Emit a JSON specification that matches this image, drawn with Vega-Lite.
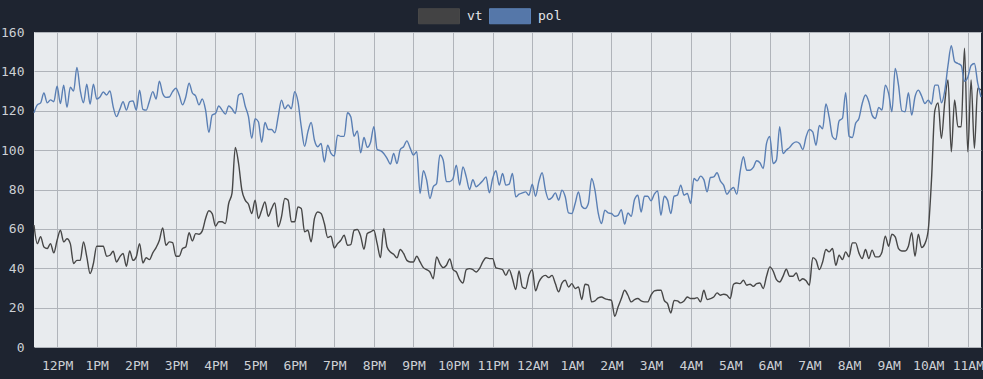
{
  "$schema": "https://vega.github.io/schema/vega-lite/v6.json",
  "autosize": "none",
  "padding": {"left": 34, "top": 32, "right": 2, "bottom": 32},
  "width": 947,
  "height": 315,
  "background": "#1e2430",
  "config": {
    "view": {"fill": "#e8ebee", "stroke": null},
    "axis": {"labelFont": "DejaVu Sans Mono", "labelFontSize": 13, "labelColor": "#cdd0d5", "gridColor": "#b0b4ba", "gridWidth": 1, "domain": false, "ticks": false}
  },
  "data": {"format": {"parse": {"t": "date:'%Y-%m-%dT%H:%M'"}}, "values": [
{"t":"2024-01-01T11:25","vt":61.9,"pol":119},{"t":"2024-01-01T11:30","vt":52.5,"pol":123},{"t":"2024-01-01T11:35","vt":56,"pol":124},{"t":"2024-01-01T11:40","vt":50.8,"pol":129},{"t":"2024-01-01T11:45","vt":50,"pol":124},{"t":"2024-01-01T11:50","vt":52.5,"pol":125.5},{"t":"2024-01-01T11:55","vt":47.8,"pol":124.6},
{"t":"2024-01-01T12:00","vt":54.2,"pol":132.5},{"t":"2024-01-01T12:05","vt":59.3,"pol":123.7},{"t":"2024-01-01T12:10","vt":53.4,"pol":133},{"t":"2024-01-01T12:15","vt":55,"pol":121.7},{"t":"2024-01-01T12:20","vt":52.5,"pol":132},{"t":"2024-01-01T12:25","vt":42.4,"pol":130},{"t":"2024-01-01T12:30","vt":44,"pol":142},{"t":"2024-01-01T12:35","vt":44,"pol":130.5},{"t":"2024-01-01T12:40","vt":53.4,"pol":124},{"t":"2024-01-01T12:45","vt":45.8,"pol":133.5},{"t":"2024-01-01T12:50","vt":37.3,"pol":123.4},{"t":"2024-01-01T12:55","vt":42.4,"pol":133.5},
{"t":"2024-01-01T13:00","vt":51.2,"pol":126},{"t":"2024-01-01T13:05","vt":51.2,"pol":127},{"t":"2024-01-01T13:10","vt":51.2,"pol":129.5},{"t":"2024-01-01T13:15","vt":46.1,"pol":128},{"t":"2024-01-01T13:20","vt":46.6,"pol":130},{"t":"2024-01-01T13:25","vt":48.6,"pol":122},{"t":"2024-01-01T13:30","vt":43.2,"pol":117},{"t":"2024-01-01T13:35","vt":45.8,"pol":120.7},{"t":"2024-01-01T13:40","vt":47.5,"pol":124.6},{"t":"2024-01-01T13:45","vt":41,"pol":120.3},{"t":"2024-01-01T13:50","vt":48.8,"pol":124.6},{"t":"2024-01-01T13:55","vt":44,"pol":125},
{"t":"2024-01-01T14:00","vt":45.8,"pol":120.3},{"t":"2024-01-01T14:05","vt":52.5,"pol":130.5},{"t":"2024-01-01T14:10","vt":42.7,"pol":120.7},{"t":"2024-01-01T14:15","vt":45.3,"pol":120.3},{"t":"2024-01-01T14:20","vt":44.4,"pol":125},{"t":"2024-01-01T14:25","vt":47.8,"pol":129.7},{"t":"2024-01-01T14:30","vt":50.5,"pol":126},{"t":"2024-01-01T14:35","vt":54.2,"pol":135},{"t":"2024-01-01T14:40","vt":60.5,"pol":128.8},{"t":"2024-01-01T14:45","vt":51.7,"pol":126.8},{"t":"2024-01-01T14:50","vt":53.4,"pol":127},{"t":"2024-01-01T14:55","vt":53,"pol":129.7},
{"t":"2024-01-01T15:00","vt":46.1,"pol":131.4},{"t":"2024-01-01T15:05","vt":46.1,"pol":128},{"t":"2024-01-01T15:10","vt":50,"pol":123},{"t":"2024-01-01T15:15","vt":50.8,"pol":127},{"t":"2024-01-01T15:20","vt":58,"pol":134},{"t":"2024-01-01T15:25","vt":53.9,"pol":129},{"t":"2024-01-01T15:30","vt":57.6,"pol":127.5},{"t":"2024-01-01T15:35","vt":57.3,"pol":123},{"t":"2024-01-01T15:40","vt":59,"pol":126},{"t":"2024-01-01T15:45","vt":65.3,"pol":120.3},{"t":"2024-01-01T15:50","vt":69.2,"pol":109},{"t":"2024-01-01T15:55","vt":67.8,"pol":117.8},
{"t":"2024-01-01T16:00","vt":61.4,"pol":118.6},{"t":"2024-01-01T16:05","vt":63.6,"pol":122.4},{"t":"2024-01-01T16:10","vt":63.6,"pol":120.3},{"t":"2024-01-01T16:15","vt":62.7,"pol":118.3},{"t":"2024-01-01T16:20","vt":72.9,"pol":122.4},{"t":"2024-01-01T16:25","vt":78,"pol":121},{"t":"2024-01-01T16:30","vt":101.4,"pol":118.6},{"t":"2024-01-01T16:35","vt":93.2,"pol":128},{"t":"2024-01-01T16:40","vt":79.7,"pol":128.8},{"t":"2024-01-01T16:45","vt":74.6,"pol":122.4},{"t":"2024-01-01T16:50","vt":72.5,"pol":117},{"t":"2024-01-01T16:55","vt":67.8,"pol":106},
{"t":"2024-01-01T17:00","vt":74.6,"pol":116},{"t":"2024-01-01T17:05","vt":65.3,"pol":114.4},{"t":"2024-01-01T17:10","vt":69.5,"pol":104},{"t":"2024-01-01T17:15","vt":73.7,"pol":114},{"t":"2024-01-01T17:20","vt":66.4,"pol":110.5},{"t":"2024-01-01T17:25","vt":70.3,"pol":110.5},{"t":"2024-01-01T17:30","vt":73.2,"pol":108.8},{"t":"2024-01-01T17:35","vt":61,"pol":117},{"t":"2024-01-01T17:40","vt":66.1,"pol":125.4},{"t":"2024-01-01T17:45","vt":75.4,"pol":121},{"t":"2024-01-01T17:50","vt":74.6,"pol":123},{"t":"2024-01-01T17:55","vt":63.6,"pol":121},
{"t":"2024-01-01T18:00","vt":63.6,"pol":129.7},{"t":"2024-01-01T18:05","vt":71.2,"pol":124.6},{"t":"2024-01-01T18:10","vt":70.3,"pol":111.9},{"t":"2024-01-01T18:15","vt":58.5,"pol":102},{"t":"2024-01-01T18:20","vt":59.3,"pol":109.3},{"t":"2024-01-01T18:25","vt":53.4,"pol":114},{"t":"2024-01-01T18:30","vt":65.3,"pol":105},{"t":"2024-01-01T18:35","vt":68.6,"pol":101.7},{"t":"2024-01-01T18:40","vt":67.8,"pol":103.4},{"t":"2024-01-01T18:45","vt":62.7,"pol":94},{"t":"2024-01-01T18:50","vt":55.6,"pol":102.5},{"t":"2024-01-01T18:55","vt":56.3,"pol":98.3},
{"t":"2024-01-01T19:00","vt":50.3,"pol":97},{"t":"2024-01-01T19:05","vt":52.5,"pol":107.6},{"t":"2024-01-01T19:10","vt":54.2,"pol":107},{"t":"2024-01-01T19:15","vt":56.8,"pol":107},{"t":"2024-01-01T19:20","vt":51.7,"pol":119},{"t":"2024-01-01T19:25","vt":52,"pol":117},{"t":"2024-01-01T19:30","vt":59.3,"pol":107},{"t":"2024-01-01T19:35","vt":59.7,"pol":109.8},{"t":"2024-01-01T19:40","vt":56.3,"pol":98.6},{"t":"2024-01-01T19:45","vt":49.7,"pol":106.4},{"t":"2024-01-01T19:50","vt":57.6,"pol":101.4},{"t":"2024-01-01T19:55","vt":58.5,"pol":104},
{"t":"2024-01-01T20:00","vt":59.3,"pol":111.9},{"t":"2024-01-01T20:05","vt":52.5,"pol":100.3},{"t":"2024-01-01T20:10","vt":45.4,"pol":99.7},{"t":"2024-01-01T20:15","vt":60.2,"pol":98.3},{"t":"2024-01-01T20:20","vt":50.8,"pol":95.8},{"t":"2024-01-01T20:25","vt":48.3,"pol":92.9},{"t":"2024-01-01T20:30","vt":47.1,"pol":98.3},{"t":"2024-01-01T20:35","vt":45.3,"pol":93.2},{"t":"2024-01-01T20:40","vt":49.5,"pol":100.3},{"t":"2024-01-01T20:45","vt":47.5,"pol":101.7},{"t":"2024-01-01T20:50","vt":44,"pol":104.7},{"t":"2024-01-01T20:55","vt":43.2,"pol":101},
{"t":"2024-01-01T21:00","vt":43.2,"pol":97.5},{"t":"2024-01-01T21:05","vt":46.1,"pol":99.2},{"t":"2024-01-01T21:10","vt":43.2,"pol":78},{"t":"2024-01-01T21:15","vt":40.3,"pol":89.5},{"t":"2024-01-01T21:20","vt":39.3,"pol":84.7},{"t":"2024-01-01T21:25","vt":38.1,"pol":75.4},{"t":"2024-01-01T21:30","vt":34.7,"pol":81.4},{"t":"2024-01-01T21:35","vt":45.8,"pol":83},{"t":"2024-01-01T21:40","vt":42.4,"pol":97.5},{"t":"2024-01-01T21:45","vt":40.3,"pol":95},{"t":"2024-01-01T21:50","vt":41.5,"pol":84},{"t":"2024-01-01T21:55","vt":44.7,"pol":84},
{"t":"2024-01-01T22:00","vt":39.3,"pol":85.6},{"t":"2024-01-01T22:05","vt":38.1,"pol":92.4},{"t":"2024-01-01T22:10","vt":34.2,"pol":82.2},{"t":"2024-01-01T22:15","vt":32.5,"pol":91.5},{"t":"2024-01-01T22:20","vt":39.3,"pol":86.4},{"t":"2024-01-01T22:25","vt":39.8,"pol":80},{"t":"2024-01-01T22:30","vt":39.3,"pol":85},{"t":"2024-01-01T22:35","vt":38.1,"pol":81.4},{"t":"2024-01-01T22:40","vt":39.8,"pol":82.7},{"t":"2024-01-01T22:45","vt":43.2,"pol":84.4},{"t":"2024-01-01T22:50","vt":45.3,"pol":86.4},{"t":"2024-01-01T22:55","vt":44.9,"pol":78.3},
{"t":"2024-01-01T23:00","vt":44.9,"pol":85.6},{"t":"2024-01-01T23:05","vt":40.2,"pol":89.5},{"t":"2024-01-01T23:10","vt":39.8,"pol":82.2},{"t":"2024-01-01T23:15","vt":39.3,"pol":88.1},{"t":"2024-01-01T23:20","vt":36.4,"pol":82.2},{"t":"2024-01-01T23:25","vt":39.3,"pol":82.7},{"t":"2024-01-01T23:30","vt":34.7,"pol":88.1},{"t":"2024-01-01T23:35","vt":29.2,"pol":76.3},{"t":"2024-01-01T23:40","vt":38.6,"pol":77.6},{"t":"2024-01-01T23:45","vt":30.5,"pol":78.3},{"t":"2024-01-01T23:50","vt":29.7,"pol":78.8},{"t":"2024-01-01T23:55","vt":36.4,"pol":77.1},
{"t":"2024-01-02T00:00","vt":39.3,"pol":82.7},{"t":"2024-01-02T00:05","vt":28.5,"pol":76.6},{"t":"2024-01-02T00:10","vt":33,"pol":84},{"t":"2024-01-02T00:15","vt":35.6,"pol":88.5},{"t":"2024-01-02T00:20","vt":36.4,"pol":79.7},{"t":"2024-01-02T00:25","vt":35.3,"pol":74.9},{"t":"2024-01-02T00:30","vt":36.4,"pol":75.9},{"t":"2024-01-02T00:35","vt":32.2,"pol":78.3},{"t":"2024-01-02T00:40","vt":28,"pol":74.6},{"t":"2024-01-02T00:45","vt":32.5,"pol":79.7},{"t":"2024-01-02T00:50","vt":33.9,"pol":76.3},{"t":"2024-01-02T00:55","vt":30.5,"pol":68.1},
{"t":"2024-01-02T01:00","vt":32.2,"pol":67.8},{"t":"2024-01-02T01:05","vt":29.7,"pol":72.9},{"t":"2024-01-02T01:10","vt":30.5,"pol":78.8},{"t":"2024-01-02T01:15","vt":24.1,"pol":71.5},{"t":"2024-01-02T01:20","vt":31.9,"pol":70.3},{"t":"2024-01-02T01:25","vt":31.4,"pol":72.9},{"t":"2024-01-02T01:30","vt":22.9,"pol":85.6},{"t":"2024-01-02T01:35","vt":23.4,"pol":79.7},{"t":"2024-01-02T01:40","vt":25,"pol":68},{"t":"2024-01-02T01:45","vt":25.4,"pol":62.7},{"t":"2024-01-02T01:50","vt":24.6,"pol":69.5},{"t":"2024-01-02T01:55","vt":24.1,"pol":68.1},
{"t":"2024-01-02T02:00","vt":23.7,"pol":67.8},{"t":"2024-01-02T02:05","vt":15.6,"pol":66.4},{"t":"2024-01-02T02:10","vt":20.3,"pol":66.9},{"t":"2024-01-02T02:15","vt":24.6,"pol":69.8},{"t":"2024-01-02T02:20","vt":28.8,"pol":62.4},{"t":"2024-01-02T02:25","vt":26.3,"pol":68.1},{"t":"2024-01-02T02:30","vt":22.9,"pol":66.4},{"t":"2024-01-02T02:35","vt":24.1,"pol":74.9},{"t":"2024-01-02T02:40","vt":24.6,"pol":77.1},{"t":"2024-01-02T02:45","vt":23.4,"pol":68.6},{"t":"2024-01-02T02:50","vt":22.9,"pol":76.6},{"t":"2024-01-02T02:55","vt":22.9,"pol":76.6},
{"t":"2024-01-02T03:00","vt":26.3,"pol":74.2},{"t":"2024-01-02T03:05","vt":28.5,"pol":77.6},{"t":"2024-01-02T03:10","vt":28.8,"pol":79.3},{"t":"2024-01-02T03:15","vt":28.8,"pol":66.9},{"t":"2024-01-02T03:20","vt":23.7,"pol":76.6},{"t":"2024-01-02T03:25","vt":22,"pol":74.6},{"t":"2024-01-02T03:30","vt":17.3,"pol":67.8},{"t":"2024-01-02T03:35","vt":23.7,"pol":76.6},{"t":"2024-01-02T03:40","vt":23.4,"pol":77.1},{"t":"2024-01-02T03:45","vt":22.4,"pol":82.2},{"t":"2024-01-02T03:50","vt":23.4,"pol":77.1},{"t":"2024-01-02T03:55","vt":25.4,"pol":78},
{"t":"2024-01-02T04:00","vt":24.6,"pol":72.9},{"t":"2024-01-02T04:05","vt":24.6,"pol":85.6},{"t":"2024-01-02T04:10","vt":25.1,"pol":84.4},{"t":"2024-01-02T04:15","vt":22.9,"pol":86.8},{"t":"2024-01-02T04:20","vt":28.8,"pol":85},{"t":"2024-01-02T04:25","vt":24.1,"pol":78.8},{"t":"2024-01-02T04:30","vt":24.6,"pol":86.1},{"t":"2024-01-02T04:35","vt":25.4,"pol":86.4},{"t":"2024-01-02T04:40","vt":27.5,"pol":88.5},{"t":"2024-01-02T04:45","vt":26.3,"pol":84.4},{"t":"2024-01-02T04:50","vt":26.8,"pol":82.2},{"t":"2024-01-02T04:55","vt":26.3,"pol":77.6},
{"t":"2024-01-02T05:00","vt":24.6,"pol":79.7},{"t":"2024-01-02T05:05","vt":31.9,"pol":81},{"t":"2024-01-02T05:10","vt":32.5,"pol":77.6},{"t":"2024-01-02T05:15","vt":32.2,"pol":89},{"t":"2024-01-02T05:20","vt":33.9,"pol":96.6},{"t":"2024-01-02T05:25","vt":31.4,"pol":89.8},{"t":"2024-01-02T05:30","vt":31.9,"pol":89.8},{"t":"2024-01-02T05:35","vt":30.8,"pol":91.2},{"t":"2024-01-02T05:40","vt":32.2,"pol":94.6},{"t":"2024-01-02T05:45","vt":32.5,"pol":93.6},{"t":"2024-01-02T05:50","vt":29.7,"pol":90.7},{"t":"2024-01-02T05:55","vt":35.9,"pol":103.4},
{"t":"2024-01-02T06:00","vt":40.7,"pol":107},{"t":"2024-01-02T06:05","vt":38.6,"pol":93.2},{"t":"2024-01-02T06:10","vt":34.2,"pol":94.9},{"t":"2024-01-02T06:15","vt":33,"pol":111.9},{"t":"2024-01-02T06:20","vt":35.9,"pol":98.3},{"t":"2024-01-02T06:25","vt":39.5,"pol":100},{"t":"2024-01-02T06:30","vt":35.9,"pol":101.4},{"t":"2024-01-02T06:35","vt":35.9,"pol":103.4},{"t":"2024-01-02T06:40","vt":37.6,"pol":104.2},{"t":"2024-01-02T06:45","vt":33.6,"pol":103.4},{"t":"2024-01-02T06:50","vt":34.7,"pol":100.3},{"t":"2024-01-02T06:55","vt":33.6,"pol":106.8},
{"t":"2024-01-02T07:00","vt":31.4,"pol":110.5},{"t":"2024-01-02T07:05","vt":45.4,"pol":109.3},{"t":"2024-01-02T07:10","vt":44.1,"pol":102.5},{"t":"2024-01-02T07:15","vt":39.3,"pol":112.5},{"t":"2024-01-02T07:20","vt":43.2,"pol":110.8},{"t":"2024-01-02T07:25","vt":49.5,"pol":123.4},{"t":"2024-01-02T07:30","vt":48.3,"pol":116.6},{"t":"2024-01-02T07:35","vt":50,"pol":106.8},{"t":"2024-01-02T07:40","vt":41.5,"pol":105.4},{"t":"2024-01-02T07:45","vt":46.6,"pol":114.9},{"t":"2024-01-02T07:50","vt":44.4,"pol":116.1},{"t":"2024-01-02T07:55","vt":48.3,"pol":129.2},
{"t":"2024-01-02T08:00","vt":45.8,"pol":107.1},{"t":"2024-01-02T08:05","vt":52.9,"pol":106.4},{"t":"2024-01-02T08:10","vt":52.9,"pol":113.6},{"t":"2024-01-02T08:15","vt":47.8,"pol":116.1},{"t":"2024-01-02T08:20","vt":44.9,"pol":123.7},{"t":"2024-01-02T08:25","vt":49.5,"pol":128},{"t":"2024-01-02T08:30","vt":44.9,"pol":124.6},{"t":"2024-01-02T08:35","vt":49.2,"pol":117.8},{"t":"2024-01-02T08:40","vt":45.8,"pol":116.1},{"t":"2024-01-02T08:45","vt":45.8,"pol":121.7},{"t":"2024-01-02T08:50","vt":48.3,"pol":120.3},{"t":"2024-01-02T08:55","vt":56.3,"pol":133},
{"t":"2024-01-02T09:00","vt":51.2,"pol":128.8},{"t":"2024-01-02T09:05","vt":57.3,"pol":119.5},{"t":"2024-01-02T09:10","vt":55.9,"pol":141.5},{"t":"2024-01-02T09:15","vt":50,"pol":133},{"t":"2024-01-02T09:20","vt":48.8,"pol":120},{"t":"2024-01-02T09:25","vt":48.8,"pol":119.5},{"t":"2024-01-02T09:30","vt":51.2,"pol":129.2},{"t":"2024-01-02T09:35","vt":58,"pol":117.8},{"t":"2024-01-02T09:40","vt":46.1,"pol":127.1},{"t":"2024-01-02T09:45","vt":57.3,"pol":130.5},{"t":"2024-01-02T09:50","vt":50.5,"pol":127.5},{"t":"2024-01-02T09:55","vt":52.5,"pol":123.7},
{"t":"2024-01-02T10:00","vt":59.3,"pol":125.4},{"t":"2024-01-02T10:05","vt":85,"pol":123.4},{"t":"2024-01-02T10:10","vt":120,"pol":133},{"t":"2024-01-02T10:15","vt":124,"pol":133},{"t":"2024-01-02T10:20","vt":106,"pol":124},{"t":"2024-01-02T10:25","vt":124,"pol":130},{"t":"2024-01-02T10:30","vt":135.6,"pol":143},{"t":"2024-01-02T10:35","vt":99.2,"pol":153},{"t":"2024-01-02T10:40","vt":125.5,"pol":145},{"t":"2024-01-02T10:45","vt":111.9,"pol":144},{"t":"2024-01-02T10:50","vt":111.9,"pol":143},{"t":"2024-01-02T10:55","vt":151.8,"pol":135},
{"t":"2024-01-02T11:00","vt":99.2,"pol":137},{"t":"2024-01-02T11:05","vt":135.6,"pol":143},{"t":"2024-01-02T11:10","vt":100.9,"pol":144},{"t":"2024-01-02T11:15","vt":131.4,"pol":134},{"t":"2024-01-02T11:20","vt":130.5,"pol":127}
  ]},
  "transform": [{"fold": ["vt", "pol"], "as": ["series", "value"]}],
  "mark": {"type": "line", "interpolate": "monotone", "strokeWidth": 1.4},
  "encoding": {
    "x": {"field": "t", "type": "temporal", "title": null, "scale": {"nice": false},
      "axis": {"format": "%-I%p", "labelPadding": 12, "values": [
        {"year": 2024, "month": 1, "date": 1, "hours": 12}, {"year": 2024, "month": 1, "date": 1, "hours": 13}, {"year": 2024, "month": 1, "date": 1, "hours": 14}, {"year": 2024, "month": 1, "date": 1, "hours": 15},
        {"year": 2024, "month": 1, "date": 1, "hours": 16}, {"year": 2024, "month": 1, "date": 1, "hours": 17}, {"year": 2024, "month": 1, "date": 1, "hours": 18}, {"year": 2024, "month": 1, "date": 1, "hours": 19},
        {"year": 2024, "month": 1, "date": 1, "hours": 20}, {"year": 2024, "month": 1, "date": 1, "hours": 21}, {"year": 2024, "month": 1, "date": 1, "hours": 22}, {"year": 2024, "month": 1, "date": 1, "hours": 23},
        {"year": 2024, "month": 1, "date": 2, "hours": 0}, {"year": 2024, "month": 1, "date": 2, "hours": 1}, {"year": 2024, "month": 1, "date": 2, "hours": 2}, {"year": 2024, "month": 1, "date": 2, "hours": 3},
        {"year": 2024, "month": 1, "date": 2, "hours": 4}, {"year": 2024, "month": 1, "date": 2, "hours": 5}, {"year": 2024, "month": 1, "date": 2, "hours": 6}, {"year": 2024, "month": 1, "date": 2, "hours": 7},
        {"year": 2024, "month": 1, "date": 2, "hours": 8}, {"year": 2024, "month": 1, "date": 2, "hours": 9}, {"year": 2024, "month": 1, "date": 2, "hours": 10}, {"year": 2024, "month": 1, "date": 2, "hours": 11}]}},
    "y": {"field": "value", "type": "quantitative", "title": null, "scale": {"domain": [0, 160], "nice": false},
      "axis": {"values": [0, 20, 40, 60, 80, 100, 120, 140, 160], "labelPadding": 10}},
    "color": {"field": "series", "type": "nominal",
      "scale": {"domain": ["vt", "pol"], "range": ["#474747", "#5a7fb4"]},
      "legend": {"orient": "none", "legendX": 384, "legendY": -37, "direction": "horizontal", "title": null,
        "symbolType": "M-1,-0.366L1,-0.366L1,0.366L-1,0.366Z", "symbolSize": 1681, "symbolStrokeWidth": 1,
        "labelFont": "DejaVu Sans Mono", "labelFontSize": 13, "labelColor": "#e4e6ea", "labelOffset": 7, "columnPadding": 4,
        "encode": {"symbols": {"update": {"fill": {"scale": "color", "field": "value"}, "fillOpacity": {"value": 0.92}, "stroke": {"value": "#3d4450"}}}}}
    }
  }
}
